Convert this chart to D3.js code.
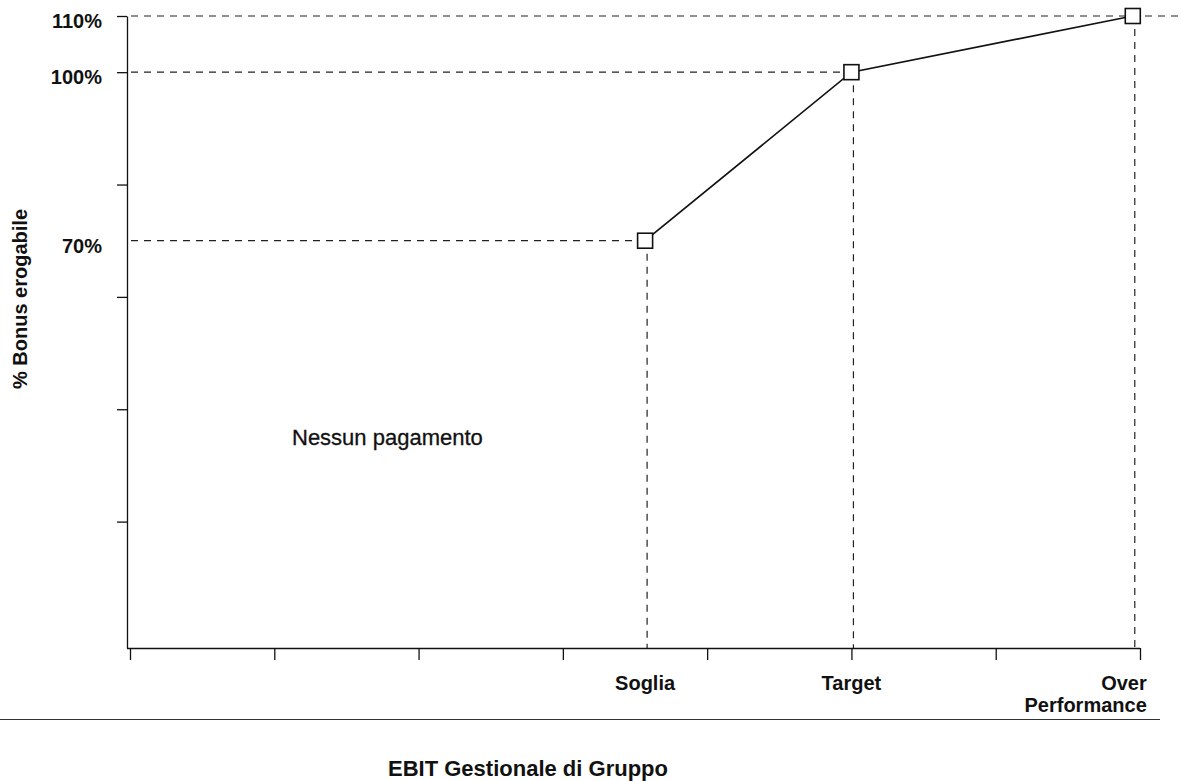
<!DOCTYPE html>
<html>
<head>
<meta charset="utf-8">
<script src="https://cdn.jsdelivr.net/npm/d3@7"></script>
<style>
  html, body { margin: 0; padding: 0; background: #fff; }
  svg { display: block; font-family: "Liberation Sans", Arial, Helvetica, sans-serif; }
</style>
</head>
<body>
<svg id="chart" width="1181" height="781"></svg>
<script>
// Payout curve: bonus paid vs. group EBIT level
const categories = ["Soglia", "Target", "Over Performance"];
const ebitLevels = [3.57, 5, 6.95];          // position on the EBIT axis (tick units)
const bonusPct = [70, 100, 110];              // % bonus erogabile
const yTickValues = [20, 40, 60, 80, 100, 110];
const yLabelValues = [110, 100, 70];
const yLabelTexts = ["110%", "100%", "70%"];
const xTickValues = [0, 1, 2, 3, 4, 5, 6, 7];

const svg = d3.select("#chart");

const x = d3.scaleLinear().domain([0, 7]).range([130, 1140]);
const y = d3.scaleLinear().domain([-2.5, 110]).range([648, 16]);
const axisX = 127;

const points = categories.map((c, i) => ({ c, xv: ebitLevels[i], yv: bonusPct[i] }));

// Guide lines
const guides = svg.append("g")
  .attr("stroke", "#222")
  .attr("stroke-width", 1.2)
  .attr("stroke-dasharray", "7,6")
  .attr("fill", "none");

points.forEach((p, i) => {
  const last = i === points.length - 1;
  guides.append("line")
    .attr("x1", axisX + 4).attr("x2", last ? 1181 : x(p.xv))
    .attr("y1", y(p.yv)).attr("y2", y(p.yv));
  guides.append("line")
    .attr("x1", x(p.xv) + 2).attr("x2", x(p.xv) + 2)
    .attr("y1", y(p.yv)).attr("y2", y(-2.5));
});

// Axes
const yAxis = d3.axisLeft(y).tickValues(yTickValues).tickFormat("").tickSize(10).tickSizeOuter(0);
const gy = svg.append("g").attr("transform", `translate(${axisX},0)`).call(yAxis);
gy.selectAll("path, line").attr("stroke", "#111").attr("stroke-width", 1.3);

const xAxis = d3.axisBottom(x).tickValues(xTickValues).tickFormat("").tickSize(12).tickSizeOuter(0);
const gx = svg.append("g").attr("transform", `translate(0,${y(-2.5)})`).call(xAxis);
gx.select(".domain").attr("d", `M${axisX},0.5H${x(7)}`);
gx.selectAll("path, line").attr("stroke", "#111").attr("stroke-width", 1.3);

// Y labels
svg.append("g").selectAll("text")
  .data(yLabelValues)
  .join("text")
  .attr("x", 102)
  .attr("y", d => y(d) + 12)
  .attr("text-anchor", "end")
  .attr("font-size", 20)
  .attr("font-weight", "bold")
  .attr("fill", "#111")
  .text((d, i) => yLabelTexts[i]);

// Payout line
svg.append("path")
  .datum(points)
  .attr("fill", "none")
  .attr("stroke", "#111")
  .attr("stroke-width", 1.7)
  .attr("d", d3.line().x(d => x(d.xv)).y(d => y(d.yv)));

// Markers
const sz = 15;
svg.append("g").selectAll("rect")
  .data(points)
  .join("rect")
  .attr("x", d => x(d.xv) - sz / 2)
  .attr("y", d => y(d.yv) - sz / 2)
  .attr("width", sz).attr("height", sz)
  .attr("fill", "#fff")
  .attr("stroke", "#111")
  .attr("stroke-width", 1.6);

// Category labels under the axis
const catG = svg.append("g")
  .attr("font-size", 20)
  .attr("font-weight", "bold")
  .attr("fill", "#111");
points.forEach((p, i) => {
  const last = i === points.length - 1;
  const words = last ? p.c.split(" ") : [p.c];
  const t = catG.append("text")
    .attr("x", last ? x(p.xv) + 14 : x(p.xv))
    .attr("y", 690)
    .attr("text-anchor", last ? "end" : "middle");
  words.forEach((w, j) => {
    t.append("tspan")
      .attr("x", last ? x(p.xv) + 14 : x(p.xv))
      .attr("dy", j === 0 ? 0 : 22)
      .text(w);
  });
});

// Separator rule
svg.append("line")
  .attr("x1", 0).attr("x2", 1160)
  .attr("y1", 719.5).attr("y2", 719.5)
  .attr("stroke", "#333").attr("stroke-width", 1.2);

// Axis titles
svg.append("text")
  .attr("x", 528).attr("y", 776)
  .attr("text-anchor", "middle")
  .attr("font-size", 22)
  .attr("font-weight", "bold")
  .attr("fill", "#111")
  .text("EBIT Gestionale di Gruppo");

svg.append("text")
  .attr("transform", "translate(27,299) rotate(-90)")
  .attr("text-anchor", "middle")
  .attr("font-size", 20)
  .attr("font-weight", "bold")
  .attr("fill", "#111")
  .text("% Bonus erogabile");

// Annotation
svg.append("text")
  .attr("x", 292).attr("y", 445)
  .attr("font-size", 22)
  .attr("fill", "#111")
  .attr("stroke", "#111")
  .attr("stroke-width", 0.3)
  .text("Nessun pagamento");
</script>
</body>
</html>
